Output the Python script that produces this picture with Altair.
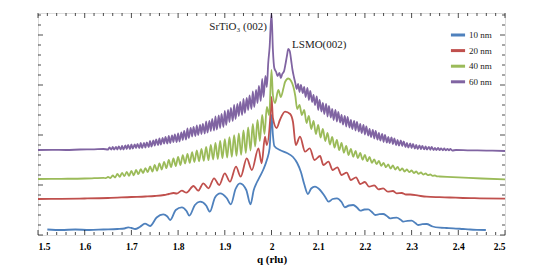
import altair as alt
import pandas as pd

series_names = ["10 nm", "20 nm", "40 nm", "60 nm"]
colors = ["#4F81BD", "#C0504D", "#9BBB59", "#8064A2"]

# ---- 10 nm (blue) ----
q10 = [1.52, 1.55, 1.58, 1.61, 1.64, 1.67, 1.685, 1.693, 1.700, 1.708, 1.718, 1.729, 1.740,
       1.754, 1.768, 1.777, 1.783, 1.795, 1.808, 1.818, 1.824, 1.836, 1.847, 1.860, 1.868,
       1.879, 1.890, 1.904, 1.913, 1.923, 1.9325, 1.946, 1.955, 1.962, 1.968, 1.975, 1.983,
       1.990, 1.996, 2.000, 2.003, 2.006, 2.018, 2.033, 2.046, 2.055, 2.063, 2.070, 2.078,
       2.085, 2.093, 2.104, 2.115, 2.122, 2.131, 2.140, 2.150, 2.157, 2.166, 2.175, 2.183,
       2.190, 2.199, 2.207, 2.215, 2.222, 2.231, 2.239, 2.247, 2.254, 2.261, 2.268, 2.276,
       2.282, 2.291, 2.300, 2.308, 2.314, 2.323, 2.332, 2.345, 2.361, 2.375, 2.389, 2.41,
       2.425, 2.44, 2.459]
v10 = [0.55, 0.5, 0.55, 0.5, 0.55, 0.6, 0.65, 0.77, 0.7, 0.6, 0.8, 1.13, 0.9,
       1.75, 2.07, 1.85, 1.5, 2.5, 2.77, 2.4, 1.93, 3.0, 3.33, 2.95, 2.33,
       3.75, 4.17, 3.7, 3.07, 4.6, 5.17, 4.5, 3.07, 4.5, 5.2, 5.83, 6.6,
       7.5, 8.7, 12.0, 10.0, 8.9, 8.5, 8.2, 7.8, 7.2, 6.3, 5.1, 4.1,
       4.65, 4.83, 4.5, 3.8, 3.33, 3.6, 3.67, 3.3, 2.77, 2.95, 3.0, 2.75,
       2.43, 2.55, 2.57, 2.3, 2.0, 2.08, 2.1, 1.9, 1.67, 1.72, 1.73, 1.55,
       1.33, 1.42, 1.43, 1.2, 1.0, 1.08, 1.1, 0.85, 0.73, 0.7, 0.67, 0.6,
       0.55, 0.52, 0.5]

# ---- 20 nm (red) ----
q20 = [1.50, 1.55, 1.60, 1.65, 1.70, 1.73, 1.75, 1.77, 1.78, 1.79, 1.797, 1.808, 1.818,
       1.833, 1.843, 1.854, 1.865, 1.877, 1.888, 1.900, 1.911, 1.924, 1.934, 1.947, 1.958,
       1.972, 1.979, 1.986, 1.990, 1.997, 2.000, 2.003, 2.011, 2.018, 2.029, 2.040, 2.046,
       2.052, 2.061, 2.072, 2.082, 2.092, 2.104, 2.111, 2.122, 2.131, 2.141, 2.150, 2.161,
       2.170, 2.181, 2.190, 2.200, 2.209, 2.220, 2.229, 2.239, 2.249, 2.260, 2.268, 2.279,
       2.288, 2.297, 2.315, 2.332, 2.36, 2.382, 2.41, 2.446, 2.5]
v20 = [3.6, 3.62, 3.65, 3.7, 3.8, 3.85, 3.9, 4.0, 4.1, 4.2, 4.15, 4.43, 4.23,
       4.9, 4.43, 5.17, 4.67, 5.67, 5.0, 6.17, 5.33, 6.83, 5.83, 7.67, 6.5,
       8.67, 7.17, 9.83, 9.0, 11.5, 13.8, 11.7, 10.7, 11.5, 12.33, 12.1, 11.3,
       9.0, 9.83, 8.33, 8.67, 7.5, 7.9, 7.0, 7.33, 6.5, 6.77, 6.0, 6.23,
       5.5, 5.77, 5.1, 5.3, 4.83, 4.97, 4.57, 4.67, 4.33, 4.4, 4.17, 4.2,
       4.05, 4.05, 3.93, 3.83, 3.78, 3.75, 3.7, 3.67, 3.63]

# ---- 40 nm (green) ----
q40 = [1.50, 1.55, 1.60, 1.62,
       1.640, 1.645, 1.650, 1.655, 1.660, 1.665, 1.670, 1.675, 1.680, 1.685, 1.690, 1.695,
       1.700, 1.705, 1.710, 1.715, 1.720, 1.725, 1.730, 1.735, 1.740, 1.745, 1.750, 1.755,
       1.760, 1.765, 1.770, 1.775, 1.780, 1.785, 1.790, 1.795, 1.800, 1.805, 1.810, 1.815,
       1.820, 1.825, 1.830, 1.835, 1.840, 1.845, 1.850, 1.855, 1.860, 1.865, 1.870, 1.875,
       1.880, 1.885, 1.890, 1.895, 1.900, 1.905, 1.910, 1.915, 1.920, 1.925, 1.930, 1.935,
       1.940, 1.945, 1.950, 1.955, 1.960, 1.965, 1.970, 1.975, 1.980, 1.985, 1.990, 1.995,
       2.000, 2.003, 2.0075, 2.0146, 2.020, 2.0257, 2.029, 2.036, 2.042, 2.047, 2.051, 2.055,
       2.060, 2.065, 2.070, 2.075, 2.080, 2.085, 2.090, 2.095, 2.100, 2.105, 2.110, 2.115,
       2.120, 2.125, 2.130, 2.135, 2.140, 2.145, 2.150, 2.155, 2.160, 2.165, 2.170, 2.175,
       2.180, 2.185, 2.190, 2.195, 2.200, 2.205, 2.210, 2.215, 2.220, 2.225, 2.230, 2.235,
       2.240, 2.245, 2.250, 2.255, 2.260, 2.265, 2.270, 2.275, 2.280, 2.285, 2.290, 2.295,
       2.300, 2.305, 2.310, 2.315, 2.320, 2.325, 2.330, 2.335, 2.340, 2.345, 2.350, 2.355,
       2.360, 2.40, 2.45, 2.50]
v40 = [5.6, 5.62, 5.65, 5.68,
       5.72, 5.68, 5.8, 5.7, 5.95, 5.75, 6.1, 5.82, 6.22, 5.88, 6.32, 5.92,
       6.4, 5.97, 6.5, 6.08, 6.58, 6.2, 6.68, 6.28, 6.85, 6.35, 7.0, 6.42,
       7.15, 6.55, 7.32, 6.68, 7.5, 6.78, 7.65, 6.9, 7.8, 7.0, 7.98, 7.15,
       8.12, 7.22, 8.28, 7.3, 8.45, 7.36, 8.6, 7.42, 8.8, 7.48, 9.0, 7.55,
       9.2, 7.6, 9.4, 7.68, 9.58, 7.75, 9.78, 7.82, 9.98, 7.92, 10.15, 8.02,
       10.45, 8.2, 10.75, 8.45, 11.1, 8.85, 11.5, 9.4, 12.0, 10.1, 12.8, 12.0,
       16.5, 14.0, 13.2, 14.5, 13.8, 14.7, 15.3, 15.65, 15.4, 14.8, 13.9, 12.6,
       13.0, 12.0, 12.5, 11.2, 11.9, 10.6, 11.4, 10.1, 11.0, 9.75, 10.6, 9.4,
       10.2, 9.05, 9.8, 8.75, 9.5, 8.48, 9.2, 8.22, 8.9, 8.0, 8.6, 7.82,
       8.4, 7.68, 8.2, 7.52, 8.0, 7.38, 7.8, 7.22, 7.55, 7.08, 7.4, 6.92,
       7.2, 6.78, 7.05, 6.65, 6.95, 6.55, 6.8, 6.45, 6.65, 6.35, 6.55, 6.28,
       6.45, 6.2, 6.35, 6.11, 6.25, 6.04, 6.15, 5.98, 6.05, 5.92, 5.95, 5.86,
       5.85, 5.77, 5.65, 5.57]

# ---- 60 nm (purple) ----
q60 = [1.50, 1.53, 1.56, 1.59, 1.62, 1.64,
       1.650, 1.653, 1.657, 1.660, 1.663, 1.667, 1.670, 1.673, 1.677, 1.680, 1.683, 1.687,
       1.690, 1.693, 1.697, 1.700, 1.703, 1.707, 1.710, 1.713, 1.717, 1.720, 1.723, 1.727,
       1.730, 1.733, 1.737, 1.740, 1.743, 1.747, 1.750, 1.753, 1.757, 1.760, 1.763, 1.767,
       1.770, 1.773, 1.777, 1.780, 1.783, 1.787, 1.790, 1.793, 1.797, 1.800, 1.803, 1.807,
       1.810, 1.813, 1.817, 1.820, 1.823, 1.827, 1.830, 1.833, 1.837, 1.840, 1.843, 1.847,
       1.850, 1.853, 1.857, 1.860, 1.863, 1.867, 1.870, 1.873, 1.877, 1.880, 1.883, 1.887,
       1.890, 1.893, 1.897, 1.900, 1.903, 1.907, 1.910, 1.913, 1.917, 1.920, 1.923, 1.927,
       1.930, 1.933, 1.937, 1.940, 1.943, 1.947, 1.950, 1.953, 1.957, 1.960, 1.963, 1.967,
       1.970, 1.973, 1.977, 1.980, 1.983, 1.987, 1.990,
       1.993, 1.996, 2.000, 2.003, 2.006, 2.010, 2.013, 2.017, 2.020, 2.023, 2.027, 2.030,
       2.033, 2.036, 2.039, 2.042, 2.045, 2.048, 2.051, 2.054, 2.057,
       2.060, 2.063, 2.067, 2.070, 2.073, 2.077, 2.080, 2.083, 2.087, 2.090, 2.093, 2.097,
       2.100, 2.103, 2.107, 2.110, 2.113, 2.117, 2.120, 2.123, 2.127, 2.130, 2.133, 2.137,
       2.140, 2.143, 2.147, 2.150, 2.153, 2.157, 2.160, 2.163, 2.167, 2.170, 2.173, 2.177,
       2.180, 2.183, 2.187, 2.190, 2.193, 2.197, 2.200, 2.203, 2.207, 2.210, 2.213, 2.217,
       2.220, 2.223, 2.227, 2.230, 2.233, 2.237, 2.240, 2.243, 2.247, 2.250, 2.253, 2.257,
       2.260, 2.263, 2.267, 2.270, 2.273, 2.277, 2.280, 2.283, 2.287, 2.290, 2.293, 2.297,
       2.300, 2.303, 2.307, 2.310, 2.313, 2.317, 2.320, 2.323, 2.327, 2.330, 2.333, 2.337,
       2.340, 2.343, 2.347, 2.350, 2.353, 2.357, 2.360, 2.363, 2.367, 2.370, 2.373, 2.377,
       2.380, 2.383, 2.387, 2.395, 2.42, 2.46, 2.50]
v60 = [8.5, 8.52, 8.5, 8.55, 8.57, 8.6,
       8.55, 8.75, 8.55, 8.8, 8.55, 8.8, 8.55, 8.85, 8.55, 8.9, 8.55, 8.95,
       8.6, 9.0, 8.6, 9.05, 8.65, 9.05, 8.7, 9.1, 8.7, 9.2, 8.7, 9.2,
       8.75, 9.25, 8.8, 9.4, 8.85, 9.45, 8.95, 9.55, 9.0, 9.65, 9.05, 9.7,
       9.15, 9.8, 9.15, 9.9, 9.2, 9.95, 9.3, 10.05, 9.3, 10.15, 9.35, 10.25,
       9.5, 10.4, 9.55, 10.65, 9.7, 10.7, 9.85, 10.8, 9.9, 10.95, 10.0, 11.0,
       10.1, 11.1, 10.15, 11.35, 10.25, 11.4, 10.4, 11.6, 10.45, 11.85, 10.55, 11.95,
       10.7, 12.1, 10.8, 12.4, 11.0, 12.5, 11.3, 12.7, 11.4, 13.0, 11.6, 13.1,
       11.9, 13.3, 12.0, 13.6, 12.2, 13.7, 12.5, 13.95, 12.6, 14.35, 12.8, 14.5,
       13.2, 14.9, 13.4, 15.6, 13.8, 15.9, 14.8,
       17.2, 18.8, 22.2, 18.5, 16.7, 16.3, 15.9, 16.2, 15.7, 16.1, 16.4, 17.1,
       17.9, 18.6, 18.4, 17.5, 16.5, 15.8, 15.2, 14.6, 15.1,
       14.3, 15.0, 14.2, 14.8, 13.8, 14.7, 13.5, 14.4, 13.3, 14.0, 13.0, 13.85,
       12.5, 13.5, 12.35, 13.2, 12.1, 13.1, 11.85, 12.9, 11.75, 12.6, 11.5, 12.5,
       11.35, 12.3, 11.25, 12.0, 11.05, 11.9, 10.85, 11.8, 10.75, 11.5, 10.6, 11.4,
       10.45, 11.3, 10.35, 11.1, 10.2, 11.0, 10.05, 10.85, 9.95, 10.6, 9.8, 10.5,
       9.65, 10.4, 9.55, 10.2, 9.45, 10.1, 9.3, 10.0, 9.25, 9.8, 9.2, 9.75,
       9.1, 9.65, 9.0, 9.5, 8.95, 9.45, 8.9, 9.35, 8.8, 9.2, 8.75, 9.15,
       8.7, 9.1, 8.65, 9.0, 8.6, 8.95, 8.58, 8.9, 8.56, 8.85, 8.54, 8.82,
       8.52, 8.8, 8.5, 8.72, 8.49, 8.7, 8.48, 8.67, 8.47, 8.65, 8.46, 8.62,
       8.46, 8.6, 8.45, 8.5, 8.47, 8.44, 8.4]

# ---- axis ticks and labels ----
x_labels = [1.5, 1.6, 1.7, 1.8, 1.9, 2.0, 2.1, 2.2, 2.3, 2.4, 2.5]
x_minor = [1.52, 1.54, 1.56, 1.58, 1.62, 1.64, 1.66, 1.68, 1.72, 1.74, 1.76, 1.78,
           1.82, 1.84, 1.86, 1.88, 1.92, 1.94, 1.96, 1.98, 2.02, 2.04, 2.06, 2.08,
           2.12, 2.14, 2.16, 2.18, 2.22, 2.24, 2.26, 2.28, 2.32, 2.34, 2.36, 2.38,
           2.42, 2.44, 2.46, 2.48]
y_major = [0, 5, 10, 15, 20]
y_minor = [1, 2, 3, 4, 6, 7, 8, 9, 11, 12, 13, 14, 16, 17, 18, 19, 21, 22]
x_edges = [1.5, 2.5]
y_edges = [0.0, 22.2]

ann_text = ["SrTiO₃ (002)", "LSMO(002)"]
ann_q = [1.990, 2.044]
ann_v = [20.55, 18.7]

rows = []
for name, qs, vs in zip(series_names, [q10, q20, q40, q60], [v10, v20, v40, v60]):
    for i, (q, v) in enumerate(zip(qs, vs)):
        rows.append({"series": name, "q": q, "v": v, "i": i})
df = pd.DataFrame(rows)

FONT = "Liberation Serif"
xscale = alt.Scale(domain=[1.5, 2.5], nice=False, zero=False)
yscale = alt.Scale(domain=[0, 22.2], nice=False, zero=False)

xaxis = alt.Axis(values=x_labels, format="~g", ticks=False, domain=False, grid=False,
                 labelFont=FONT, labelFontSize=9.5, labelFontWeight="bold", labelColor="black",
                 labelPadding=6, titleFont=FONT, titleFontSize=11,
                 titleFontWeight="bold", titleColor="black", titlePadding=3)

def X():
    return alt.X("q:Q", scale=xscale, axis=xaxis, title="q (rlu)")

def Y():
    return alt.Y("v:Q", scale=yscale, axis=None)

color = alt.Color("series:N", scale=alt.Scale(domain=series_names, range=colors),
                  legend=alt.Legend(title=None, orient="none", legendX=411, legendY=13,
                                    symbolType="stroke", symbolSize=200, symbolStrokeWidth=3,
                                    labelFont=FONT, labelFontSize=9, labelColor="#222",
                                    labelOffset=2, rowPadding=0.6))

layers = []
for name in series_names:
    ch = alt.Chart(df).transform_filter(alt.datum.series == name).mark_line(
        strokeWidth=1.8, clip=True, interpolate="monotone").encode(
        x=X(), y=Y(), color=color, order="i:Q")
    layers.append(ch)

def xticks(values, size, edge):
    data = pd.DataFrame({"q": values, "v": [y_edges[edge]] * len(values)})
    off = -size / 2 if edge == 0 else size / 2
    return alt.Chart(data).mark_tick(orient="vertical", size=size, thickness=1, color="black",
                                     yOffset=off).encode(x=X(), y=Y())

def yticks(values, size, edge):
    data = pd.DataFrame({"v": values, "q": [x_edges[edge]] * len(values)})
    off = size / 2 if edge == 0 else -size / 2
    return alt.Chart(data).mark_tick(orient="horizontal", size=size, thickness=1, color="black",
                                     xOffset=off).encode(x=X(), y=Y())

ticks = [xticks(x_labels, 5, 0), xticks(x_labels, 5, 1),
         xticks(x_minor, 3, 0), xticks(x_minor, 3, 1),
         yticks(y_major, 5, 0), yticks(y_major, 5, 1),
         yticks(y_minor, 3, 0), yticks(y_minor, 3, 1)]

ann_df = pd.DataFrame({"t": ann_text, "q": ann_q, "v": ann_v})
ann1 = alt.Chart(ann_df.iloc[[0]]).mark_text(align="right", baseline="alphabetic", font=FONT,
                                             fontSize=11, color="#222").encode(
    x=X(), y=Y(), text="t:N")
ann2 = alt.Chart(ann_df.iloc[[1]]).mark_text(align="left", baseline="alphabetic", font=FONT,
                                             fontSize=11, color="#222").encode(
    x=X(), y=Y(), text="t:N")

chart = alt.layer(*layers, *ticks, ann1, ann2).properties(
    width=467, height=222,
    autosize=alt.AutoSizeParams(type="none"),
    padding={"left": 30, "top": 5, "right": 32, "bottom": 30},
).configure_view(stroke="black", strokeWidth=1.5).configure(background="white")

chart.save("out.html", embed_options={"renderer": "svg", "actions": False})
